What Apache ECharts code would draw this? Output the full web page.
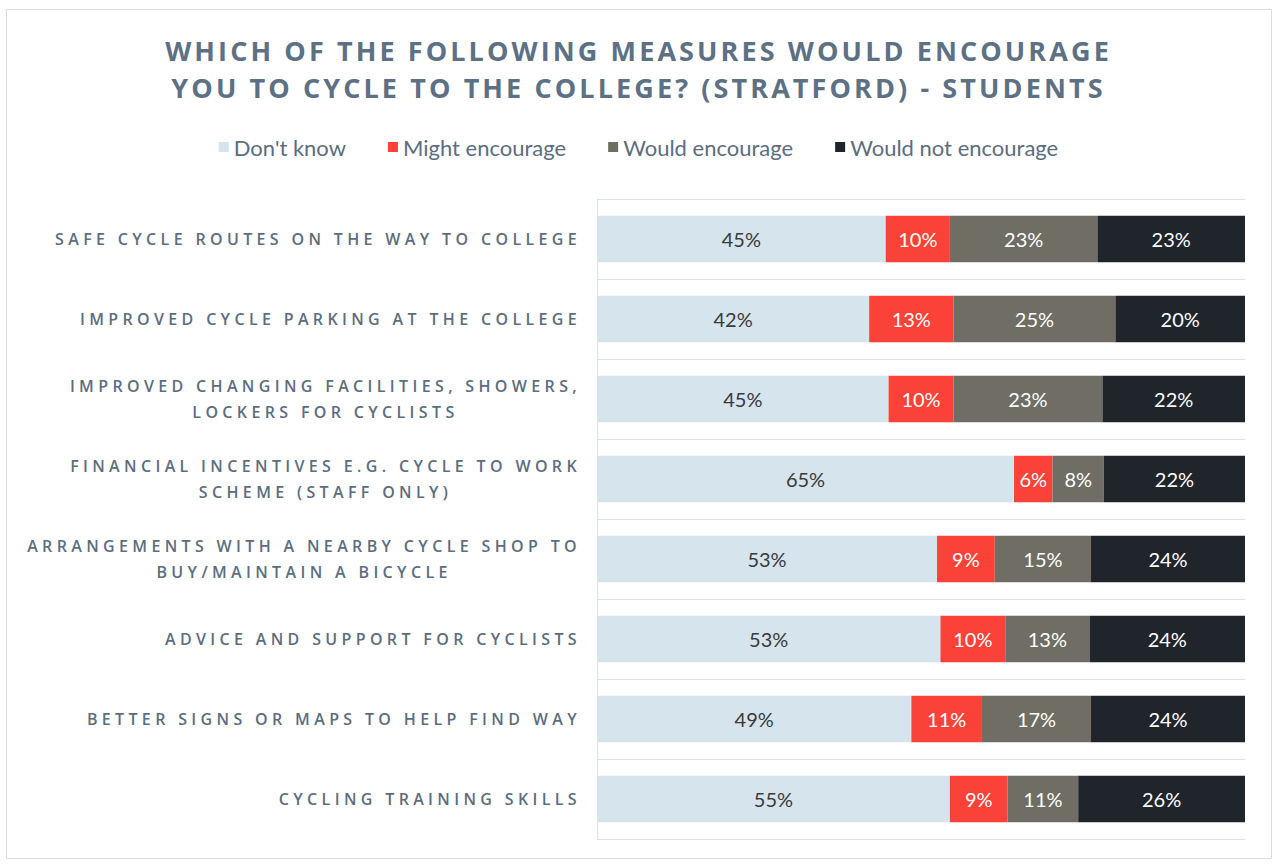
<!DOCTYPE html>
<html>
<head>
<meta charset="utf-8">
<script src="https://cdn.jsdelivr.net/npm/echarts@6/dist/echarts.min.js"></script>
<style>
html,body{margin:0;padding:0;background:#fff;}
#chart{width:1277px;height:866px;}
</style>
</head>
<body>
<div id="chart"></div>
<script>
const titleLines = ['WHICH OF THE FOLLOWING MEASURES WOULD ENCOURAGE', 'YOU TO CYCLE TO THE COLLEGE? (STRATFORD) - STUDENTS'];
const categories = [
  'SAFE CYCLE ROUTES ON THE WAY TO COLLEGE',
  'IMPROVED CYCLE PARKING AT THE COLLEGE',
  'IMPROVED CHANGING FACILITIES, SHOWERS,\nLOCKERS FOR CYCLISTS',
  'FINANCIAL INCENTIVES E.G. CYCLE TO WORK\nSCHEME (STAFF ONLY)',
  'ARRANGEMENTS WITH A NEARBY CYCLE SHOP TO\nBUY/MAINTAIN A BICYCLE',
  'ADVICE AND SUPPORT FOR CYCLISTS',
  'BETTER SIGNS OR MAPS TO HELP FIND WAY',
  'CYCLING TRAINING SKILLS'
];
const seriesNames = ["Don't know", 'Might encourage', 'Would encourage', 'Would not encourage'];
const dontKnow = [45, 42, 45, 65, 53, 53, 49, 55];
const mightEncourage = [10, 13, 10, 6, 9, 10, 11, 9];
const wouldEncourage = [23, 25, 23, 8, 15, 13, 17, 11];
const wouldNotEncourage = [23, 20, 22, 22, 24, 24, 24, 26];

const allValues = [dontKnow, mightEncourage, wouldEncourage, wouldNotEncourage];
const colors = ['#d6e4ee', '#fa4239', '#6f6d64', '#1f252b'];
const labelColors = ['#3a3a3a', '#ffffff', '#ffffff', '#ffffff'];
const rowTotals = categories.map((c, i) => allValues.reduce((s, arr) => s + arr[i], 0));

const textColor = '#5c6d7e';

const chart = echarts.init(document.getElementById('chart'), null, {renderer: 'svg'});
const option = {
  animation: false,
  backgroundColor: '#ffffff',
  color: colors,
  title: {
    text: titleLines.join('\n'),
    left: 'center',
    top: 27,
    textStyle: {
      fontFamily: 'Open Sans',
      fontSize: 27,
      fontWeight: 'bold',
      color: '#5d7084',
      lineHeight: 37
    }
  },
  legend: {
    top: 131,
    left: 'center',
    icon: 'rect',
    itemWidth: 10,
    itemHeight: 10,
    itemGap: 42,
    textStyle: {fontFamily: 'Lato', fontSize: 22, color: textColor},
    data: seriesNames
  },
  graphic: [{
    type: 'rect',
    shape: {x: 6.5, y: 9.5, width: 1265, height: 849},
    style: {fill: 'none', stroke: '#d9dde2', lineWidth: 1},
    silent: true
  }],
  grid: {left: 597, right: 32, top: 199, bottom: 27, containLabel: false},
  xAxis: {
    type: 'value', min: 0, max: 100,
    axisLine: {show: false}, axisTick: {show: false},
    axisLabel: {show: false}, splitLine: {show: false}
  },
  yAxis: {
    type: 'category',
    data: categories,
    inverse: true,
    axisLine: {show: true, lineStyle: {color: '#dbe2ea', width: 1}},
    axisTick: {show: false},
    splitLine: {show: true, lineStyle: {color: '#dbe2ea', width: 1}},
    axisLabel: {
      fontFamily: 'Open Sans',
      fontSize: 16,
      fontWeight: 600,
      color: textColor,
      margin: 16,
      lineHeight: 26
    }
  },
  series: seriesNames.map((name, si) => ({
    name: name,
    type: 'bar',
    stack: 'total',
    barCategoryGap: '42%',
    itemStyle: {color: colors[si]},
    label: {
      show: true,
      position: 'inside',
      fontFamily: 'Lato',
      fontSize: 20,
      color: labelColors[si],
      formatter: p => allValues[si][p.dataIndex] + '%'
    },
    data: allValues[si].map((v, i) => v / rowTotals[i] * 100)
  }))
};
chart.setOption(option);

const catLines = new Set();
categories.forEach(c => c.split('\n').forEach(l => catLines.add(l)));
const titleSet = new Set(titleLines);

function fixText() {
  const svg = document.querySelector('#chart svg');
  if (!svg) return;
  const texts = Array.from(svg.querySelectorAll('text'));
  texts.forEach(t => {
    const s = t.textContent;
    if (titleSet.has(s)) t.style.letterSpacing = '3.1px';
    else if (catLines.has(s)) t.style.letterSpacing = '4.35px';
  });
  categories.filter(c => c.indexOf('\n') >= 0).forEach(c => {
    const parts = c.split('\n');
    const els = parts.map(p => texts.find(t => t.textContent === p));
    if (els.some(e => !e)) return;
    if (els[0].dataset.fixed) return;
    const lens = els.map(e => e.getComputedTextLength());
    const maxLen = Math.max.apply(null, lens);
    els.forEach(e => {
      const x0 = parseFloat(e.getAttribute('x') || '0');
      e.setAttribute('text-anchor', 'middle');
      e.style.textAnchor = 'middle';
      e.setAttribute('x', x0 - maxLen / 2);
      e.dataset.fixed = '1';
    });
  });
}
chart.on('finished', fixText);
setTimeout(fixText, 50);
setTimeout(fixText, 300);
</script>
</body>
</html>
